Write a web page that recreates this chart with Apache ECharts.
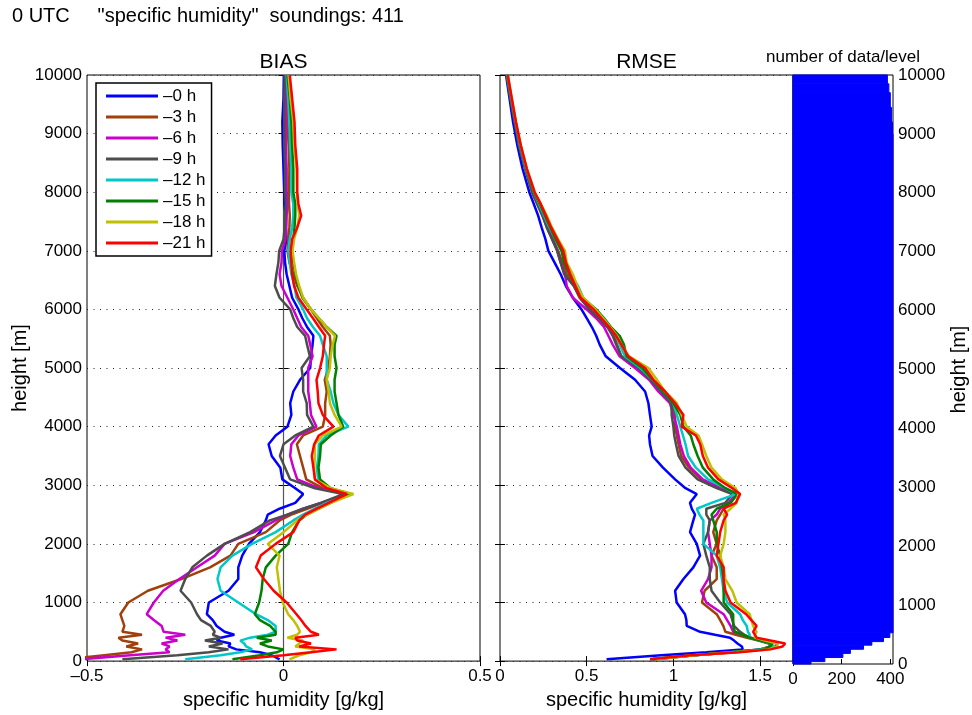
<!DOCTYPE html>
<html><head><meta charset="utf-8">
<script src="https://cdn.jsdelivr.net/npm/echarts@6/dist/echarts.min.js"></script>
<style>html,body{margin:0;padding:0;background:#fff}#c{width:972px;height:715px}</style>
</head><body><div id="c"></div>
<script>
// ---------- data ----------
const heights = [30,100,150,200,250,300,350,400,450,500,600,700,800,1000,1200,1400,1600,1800,2000,2200,2400,2500,2600,2700,2850,2950,3100,3300,3500,3700,3850,4000,4200,4400,4600,4800,5000,5200,5400,5550,5700,5850,6000,6200,6400,6600,6800,7000,7200,7400,7600,7800,8000,8400,8800,9200,9600,10000];

const seriesNames = ['–0 h','–3 h','–6 h','–9 h','–12 h','–15 h','–18 h','–21 h'];

const biasM0  = [-0.01,-0.03,-0.06,-0.12,-0.14,-0.135,-0.17,-0.16,-0.125,-0.15,-0.17,-0.18,-0.195,-0.19,-0.14,-0.115,-0.115,-0.105,-0.088,-0.06,-0.045,-0.04,-0.01,0.03,0.05,0.03,-0.003,-0.008,-0.03,-0.038,-0.02,0.01,0.02,0.017,0.025,0.042,0.068,0.07,0.074,0.076,0.06,0.048,0.038,0.022,0.015,0.008,0.004,0.002,0.008,0.006,0.006,0.002,0.002,0.0,-0.002,-0.003,0.0,0.001];
const biasM3  = [-0.55,-0.456,-0.387,-0.36,-0.40,-0.37,-0.41,-0.42,-0.36,-0.41,-0.405,-0.41,-0.415,-0.395,-0.345,-0.26,-0.187,-0.135,-0.115,-0.045,-0.01,0.02,0.06,0.10,0.162,0.10,0.058,0.05,0.042,0.034,0.05,0.10,0.106,0.106,0.11,0.105,0.114,0.118,0.12,0.118,0.10,0.085,0.07,0.05,0.035,0.025,0.015,0.01,0.012,0.015,0.016,0.014,0.014,0.015,0.013,0.01,0.008,0.006];
const biasM6  = [-0.52,-0.39,-0.29,-0.30,-0.29,-0.31,-0.27,-0.30,-0.25,-0.305,-0.31,-0.33,-0.348,-0.33,-0.306,-0.265,-0.22,-0.175,-0.15,-0.075,-0.02,0.01,0.05,0.095,0.16,0.09,0.035,0.025,0.017,0.02,0.038,0.084,0.07,0.067,0.063,0.063,0.063,0.074,0.068,0.063,0.045,0.035,0.025,0.01,-0.005,-0.01,-0.005,-0.004,0.005,0.007,0.008,0.01,0.008,0.008,0.006,0.006,0.005,0.005];
const biasM9  = [-0.41,-0.27,-0.19,-0.14,-0.19,-0.155,-0.20,-0.16,-0.18,-0.175,-0.185,-0.21,-0.22,-0.235,-0.262,-0.25,-0.232,-0.195,-0.15,-0.085,-0.035,0.01,0.05,0.095,0.152,0.08,0.017,0.004,-0.009,0.0,0.03,0.076,0.06,0.059,0.05,0.05,0.046,0.067,0.06,0.055,0.035,0.025,0.017,-0.01,-0.022,-0.018,-0.013,-0.011,0.0,0.003,0.004,0.006,0.004,0.004,0.002,0.002,0.002,0.003];
const biasM12 = [-0.25,-0.16,-0.11,-0.08,-0.095,-0.10,-0.11,-0.085,-0.04,-0.02,-0.02,-0.04,-0.07,-0.115,-0.16,-0.168,-0.16,-0.13,-0.08,-0.02,0.025,0.05,0.08,0.11,0.17,0.11,0.088,0.085,0.089,0.09,0.11,0.165,0.14,0.127,0.12,0.11,0.11,0.11,0.10,0.093,0.075,0.06,0.05,0.033,0.028,0.02,0.016,0.012,0.016,0.022,0.025,0.025,0.02,0.02,0.017,0.015,0.012,0.008];
const biasM15 = [-0.13,-0.06,-0.017,0.0,-0.04,-0.06,-0.03,-0.068,-0.02,-0.02,-0.034,-0.06,-0.073,-0.062,-0.056,-0.053,-0.045,-0.02,0.012,0.022,0.04,0.06,0.09,0.12,0.168,0.12,0.093,0.089,0.093,0.095,0.12,0.152,0.14,0.135,0.13,0.13,0.135,0.13,0.13,0.135,0.11,0.09,0.07,0.048,0.038,0.03,0.025,0.02,0.025,0.028,0.03,0.03,0.025,0.025,0.022,0.02,0.016,0.01];
const biasM18 = [0.015,0.04,0.07,0.08,0.03,0.04,0.05,0.01,0.035,0.042,0.035,0.025,0.012,-0.002,-0.009,-0.013,-0.017,-0.01,-0.04,0.0,0.035,0.06,0.09,0.12,0.178,0.12,0.08,0.078,0.08,0.08,0.10,0.148,0.13,0.118,0.115,0.11,0.118,0.12,0.125,0.131,0.11,0.09,0.07,0.05,0.04,0.032,0.027,0.023,0.027,0.035,0.04,0.036,0.034,0.033,0.027,0.025,0.018,0.013];
const biasM21 = [-0.11,0.0,0.07,0.135,0.04,0.07,0.035,0.03,0.09,0.07,0.056,0.045,0.033,0.008,-0.025,-0.05,-0.07,-0.058,-0.02,0.025,0.04,0.055,0.085,0.115,0.161,0.11,0.08,0.076,0.072,0.078,0.09,0.127,0.10,0.089,0.087,0.084,0.093,0.10,0.103,0.106,0.09,0.075,0.059,0.038,0.027,0.022,0.02,0.018,0.022,0.035,0.045,0.038,0.035,0.035,0.03,0.028,0.022,0.016];

const rmseM0  = [0.615,0.93,1.19,1.40,1.395,1.37,1.35,1.327,1.24,1.154,1.077,1.075,1.067,1.019,1.01,1.058,1.115,1.154,1.135,1.096,1.115,1.125,1.106,1.096,1.135,1.07,1.01,0.94,0.88,0.865,0.86,0.875,0.865,0.856,0.837,0.779,0.692,0.61,0.575,0.555,0.53,0.5,0.47,0.42,0.38,0.35,0.315,0.279,0.262,0.24,0.22,0.195,0.169,0.13,0.1,0.075,0.055,0.035];
const rmseM3  = [0.9,1.12,1.33,1.50,1.56,1.55,1.49,1.42,1.36,1.30,1.288,1.27,1.25,1.165,1.18,1.25,1.25,1.22,1.25,1.23,1.25,1.27,1.29,1.32,1.37,1.28,1.16,1.09,1.045,1.03,1.02,1.01,1.01,0.99,0.93,0.87,0.8,0.7,0.675,0.66,0.62,0.57,0.52,0.46,0.43,0.385,0.36,0.335,0.305,0.275,0.25,0.22,0.19,0.148,0.113,0.087,0.063,0.04];
const rmseM6  = [0.88,1.12,1.35,1.52,1.59,1.60,1.52,1.45,1.40,1.345,1.33,1.31,1.29,1.19,1.16,1.20,1.22,1.22,1.21,1.20,1.21,1.25,1.27,1.32,1.36,1.27,1.17,1.10,1.06,1.04,1.03,1.02,1.0,0.98,0.913,0.86,0.779,0.69,0.65,0.625,0.6,0.555,0.5,0.42,0.385,0.375,0.35,0.33,0.3,0.27,0.245,0.215,0.185,0.145,0.11,0.085,0.062,0.04];
const rmseM9  = [0.88,1.12,1.33,1.50,1.57,1.56,1.50,1.44,1.41,1.385,1.35,1.34,1.33,1.27,1.22,1.21,1.21,1.19,1.173,1.20,1.21,1.19,1.19,1.30,1.34,1.25,1.14,1.07,1.03,1.015,1.005,1.0,0.99,0.99,0.93,0.87,0.8,0.7,0.67,0.65,0.62,0.57,0.515,0.46,0.425,0.37,0.35,0.33,0.3,0.27,0.245,0.215,0.185,0.145,0.11,0.085,0.06,0.038];
const rmseM12 = [0.87,1.12,1.33,1.50,1.58,1.56,1.50,1.44,1.44,1.43,1.423,1.40,1.385,1.31,1.29,1.28,1.27,1.25,1.173,1.173,1.173,1.15,1.135,1.22,1.36,1.30,1.20,1.13,1.085,1.07,1.055,1.04,1.02,1.0,0.94,0.88,0.81,0.72,0.69,0.67,0.635,0.6,0.55,0.48,0.45,0.41,0.375,0.355,0.32,0.285,0.255,0.225,0.195,0.15,0.115,0.09,0.065,0.042];
const rmseM15 = [0.87,1.11,1.33,1.52,1.56,1.57,1.50,1.44,1.40,1.355,1.345,1.345,1.345,1.29,1.29,1.29,1.28,1.27,1.25,1.25,1.23,1.22,1.25,1.33,1.37,1.30,1.23,1.17,1.14,1.115,1.1,1.058,1.04,1.0,0.94,0.88,0.82,0.73,0.715,0.69,0.64,0.6,0.555,0.475,0.44,0.4,0.37,0.355,0.32,0.29,0.26,0.23,0.195,0.152,0.117,0.09,0.066,0.042];
const rmseM18 = [0.9,1.12,1.36,1.55,1.60,1.60,1.53,1.47,1.47,1.48,1.46,1.45,1.44,1.365,1.34,1.30,1.29,1.27,1.29,1.30,1.30,1.29,1.33,1.365,1.375,1.36,1.28,1.22,1.19,1.165,1.145,1.077,1.048,1.02,0.952,0.905,0.856,0.745,0.7,0.675,0.635,0.595,0.55,0.48,0.445,0.42,0.385,0.375,0.335,0.3,0.27,0.235,0.2,0.155,0.12,0.092,0.068,0.045];
const rmseM21 = [0.865,1.10,1.38,1.56,1.63,1.645,1.56,1.48,1.47,1.46,1.48,1.45,1.42,1.33,1.30,1.29,1.29,1.25,1.26,1.27,1.29,1.31,1.29,1.36,1.385,1.34,1.26,1.20,1.17,1.155,1.13,1.048,1.058,1.01,0.952,0.885,0.837,0.74,0.7,0.67,0.63,0.585,0.54,0.465,0.435,0.405,0.38,0.365,0.33,0.295,0.265,0.235,0.2,0.155,0.12,0.092,0.068,0.045];

// number of data per level: band bottom, band top, count
const countLow  = [0, 40, 110, 180, 250, 320, 380, 450, 530, 9000, 9200, 9450, 9700, 9850];
const countHigh = [40, 110, 180, 250, 320, 380, 450, 530, 9000, 9200, 9450, 9700, 9850, 10000];
const countVal  = [74, 131, 205, 236, 290, 324, 372, 398, 411, 409, 405, 400, 394, 388];

const biasZero = [[0, 0], [0, 10000]];

// ---------- styles ----------
const colors = ['#0000ff','#a0400a','#cc00cc','#4d4d4d','#00c8c8','#008000','#c0c000','#ff0000'];
const FONT = '"Liberation Sans", Arial, Helvetica, sans-serif';

const biasAll = [biasM0,biasM3,biasM6,biasM9,biasM12,biasM15,biasM18,biasM21];
const rmseAll = [rmseM0,rmseM3,rmseM6,rmseM9,rmseM12,rmseM15,rmseM18,rmseM21];

const tick = {show:true, inside:true, length:5, lineStyle:{color:'#000', width:1}};
const lbl = {fontSize:17, fontFamily:FONT, color:'#000'};
const dotted = {show:true, lineStyle:{color:'#222', width:1, type:[1,5.5]}};
const nameStyle = {fontSize:20, fontFamily:FONT, color:'#000'};
const hFmt = v => String(v);

const gridBase = {show:true, borderColor:'#000', borderWidth:1, backgroundColor:'transparent'};
const grids = [
  Object.assign({left:87, top:75, width:393, height:589}, gridBase),
  Object.assign({left:500, top:75, width:293, height:589}, gridBase),
  Object.assign({left:793, top:75, width:100, height:589}, gridBase)
];

function plainX(grid, pos, min, max, interval) {
  return {gridIndex:grid, type:'value', position:pos, min:min, max:max, interval:interval,
    axisLine:{show:false}, axisTick:tick, axisLabel:{show:false}, splitLine:{show:false}};
}
function plainY(grid, pos) {
  return {gridIndex:grid, type:'value', position:pos, min:0, max:10000, interval:1000,
    axisLine:{show:false}, axisTick:tick, axisLabel:{show:false}, splitLine:{show:false}};
}

const xAxis = [
  Object.assign(plainX(0,'bottom',-0.5,0.5,0.5), {
    axisLabel:Object.assign({}, lbl, {margin:7, formatter:v => String(v).replace('-', '–')}),
    name:'specific humidity [g/kg]', nameLocation:'middle', nameGap:26, nameTextStyle:nameStyle}),
  Object.assign(plainX(1,'bottom',0,1.69,0.5), {
    axisLabel:Object.assign({}, lbl, {margin:7, showMaxLabel:false}),
    name:'specific humidity [g/kg]', nameLocation:'middle', nameGap:26, nameTextStyle:nameStyle}),
  Object.assign(plainX(2,'bottom',0,411,200), {
    axisLabel:Object.assign({}, lbl, {margin:7, showMaxLabel:false})}),
  plainX(0,'top',-0.5,0.5,0.5),
  plainX(1,'top',0,1.69,0.5)
];

const yAxis = [
  Object.assign(plainY(0,'left'), {
    axisLabel:Object.assign({}, lbl, {margin:5, formatter:hFmt}), splitLine:dotted,
    name:'height [m]', nameLocation:'middle', nameGap:56, nameRotate:90, nameTextStyle:nameStyle}),
  Object.assign(plainY(1,'left'), {splitLine:dotted}),
  Object.assign(plainY(2,'right'), {
    axisTick:{show:false},
    axisLabel:Object.assign({}, lbl, {margin:5, formatter:hFmt}),
    name:'height [m]', nameLocation:'middle', nameGap:56, nameRotate:90, nameTextStyle:nameStyle}),
  plainY(0,'right'),
  plainY(1,'right')
];

const series = [];
series.push({type:'line', name:'zero', xAxisIndex:0, yAxisIndex:0, data:biasZero, symbol:'none',
  silent:true, z:1, lineStyle:{color:'#555', width:1.2}, itemStyle:{color:'#555'}});
seriesNames.forEach((nm, i) => {
  series.push({type:'line', name:nm, xAxisIndex:0, yAxisIndex:0, symbol:'none', showSymbol:false,
    color:colors[i], lineStyle:{color:colors[i], width:2.5}, itemStyle:{color:colors[i]}, z:2+i,
    data:heights.map((h, k) => [biasAll[i][k], h])});
});
seriesNames.forEach((nm, i) => {
  series.push({type:'line', name:nm, xAxisIndex:1, yAxisIndex:1, symbol:'none', showSymbol:false,
    color:colors[i], lineStyle:{color:colors[i], width:2.5}, itemStyle:{color:colors[i]}, z:2+i,
    data:heights.map((h, k) => [rmseAll[i][k], h])});
});
series.push({type:'custom', name:'count', xAxisIndex:2, yAxisIndex:2, silent:true,
  encode:{x:0, y:[1,2]},
  data:countVal.map((c, k) => [c, countLow[k], countHigh[k]]),
  renderItem:function(params, api){
    const p0 = api.coord([0, api.value(2)]);
    const p1 = api.coord([api.value(0), api.value(1)]);
    return {type:'rect', shape:{x:p0[0], y:p0[1], width:p1[0]-p0[0], height:p1[1]-p0[1]},
      style:{fill:'#0000ff', stroke:'#0000ff', lineWidth:1}};
  }});

const option = {
  animation:false,
  backgroundColor:'#fff',
  grid:grids,
  xAxis:xAxis,
  yAxis:yAxis,
  legend:{data:seriesNames, orient:'vertical', left:96, top:83, padding:[4,6,4,10], itemGap:3,
    itemWidth:52, itemHeight:3, icon:'rect', borderColor:'#000', borderWidth:1.5, backgroundColor:'#fff',
    selectedMode:false, textStyle:{fontSize:17, fontFamily:FONT, color:'#000', lineHeight:18}},
  graphic:[
    {type:'text', left:12, top:6, style:{text:'0 UTC     "specific humidity"  soundings: 411', font:'20px ' + FONT, fill:'#000'}},
    {type:'text', x:283.5, y:62, style:{text:'BIAS', font:'21px ' + FONT, fill:'#000', align:'center', verticalAlign:'middle'}},
    {type:'text', x:646.5, y:62, style:{text:'RMSE', font:'21px ' + FONT, fill:'#000', align:'center', verticalAlign:'middle'}},
    {type:'text', x:843, y:57, style:{text:'number of data/level', font:'17px ' + FONT, fill:'#000', align:'center', verticalAlign:'middle'}}
  ],
  series:series
};

const chart = echarts.init(document.getElementById('c'), null, {renderer:'canvas'});
chart.setOption(option);
</script>
</body></html>
